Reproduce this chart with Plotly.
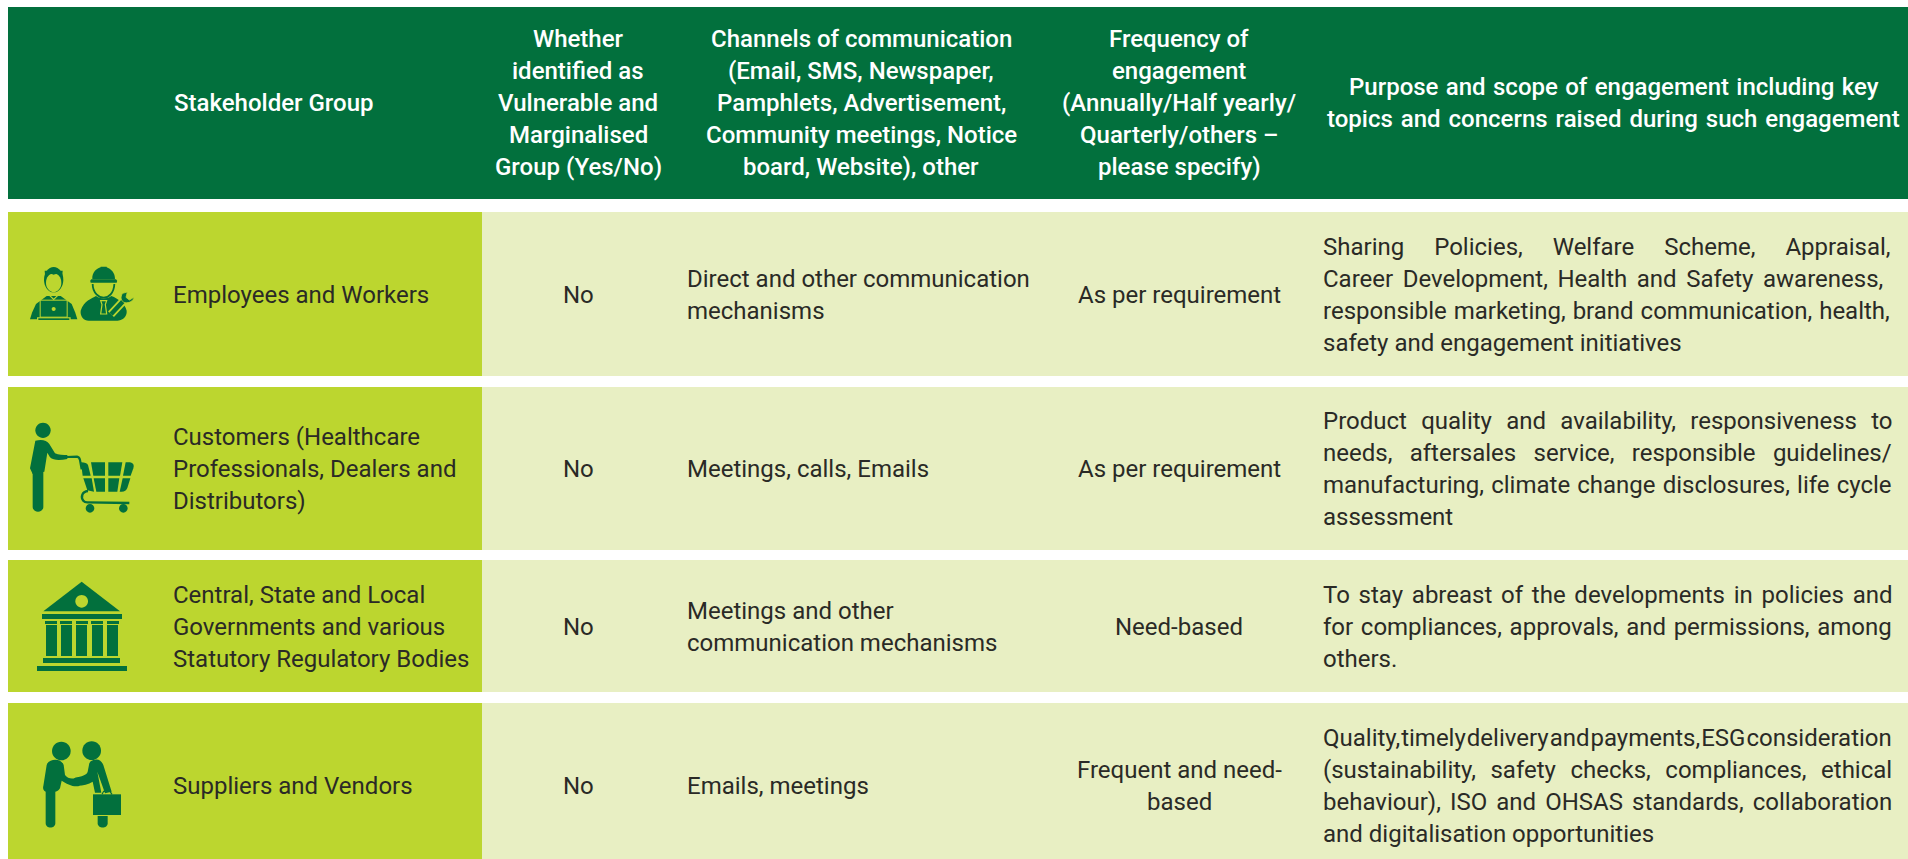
import re
import plotly.graph_objects as go

# ---------- content ----------
header_col1 = ["Stakeholder Group"]
header_col2 = ["Whether", "identified as", "Vulnerable and", "Marginalised", "Group (Yes/No)"]
header_col3 = ["Channels of communication", "(Email, SMS, Newspaper,", "Pamphlets, Advertisement,",
               "Community meetings, Notice", "board, Website), other"]
header_col4 = ["Frequency of", "engagement", "(Annually/Half yearly/", "Quarterly/others –", "please specify)"]
header_col5 = ["Purpose and scope of engagement including key", "topics and concerns raised during such engagement"]
header_col5_word_extra = [1.4, 2.0]

stakeholders = [["Employees and Workers"],
                ["Customers (Healthcare", "Professionals, Dealers and", "Distributors)"],
                ["Central, State and Local", "Governments and various", "Statutory Regulatory Bodies"],
                ["Suppliers and Vendors"]]
vulnerable = ["No", "No", "No", "No"]
channels = [["Direct and other communication", "mechanisms"],
            ["Meetings, calls, Emails"],
            ["Meetings and other", "communication mechanisms"],
            ["Emails, meetings"]]
frequency = [["As per requirement"], ["As per requirement"], ["Need-based"], ["Frequent and need-", "based"]]
purpose = [["Sharing Policies, Welfare Scheme, Appraisal,",
            "Career Development, Health and Safety awareness,",
            "responsible marketing, brand communication, health,",
            "safety and engagement initiatives"],
           ["Product quality and availability, responsiveness to",
            "needs, aftersales service, responsible guidelines/",
            "manufacturing, climate change disclosures, life cycle",
            "assessment"],
           ["To stay abreast of the developments in policies and",
            "for compliances, approvals, and permissions, among",
            "others."],
           ["Quality, timely delivery and payments, ESG consideration",
            "(sustainability, safety checks, compliances, ethical",
            "behaviour), ISO and OHSAS standards, collaboration",
            "and digitalisation opportunities"]]
purpose_word_extra = [[24, 3.6, 1, 0], [8.3, 11.4, 1.2, 0], [2.8, 1.7, 0, 0], [-4.95, 8.6, 3.1, 0]]

# ---------- style / layout ----------
DARK, LIME, PALE, INK = "#02703D", "#BCD62F", "#E8EFC3", "#2A2A26"
FONT = "Roboto"
SIZE = 24
LINE = 32
X0, X_SPLIT, X1 = 8, 482, 1908
HEADER = (7, 199)
ROWS = [(212, 376), (387, 550), (560, 692), (703, 859)]
ROW_TEXT_CENTER = [294.5, 469, 627, 786]
HEADER_CENTER = 103

shapes, annos = [], []


def rect(x0, y0, x1, y1, color):
    shapes.append(dict(type="rect", xref="x", yref="y", x0=x0, y0=y0, x1=x1, y1=y1,
                       fillcolor=color, line_width=0, layer="below"))


def text(lines, x, cy, anchor, color=INK, weight=400, extras=None):
    n = len(lines)
    for i, s in enumerate(lines):
        t = s
        if extras and extras[i]:
            t = f'<span style="word-spacing:{extras[i]}px">{s}</span>'
        annos.append(dict(x=x, y=cy + (i - (n - 1) / 2) * LINE, xref="x", yref="y", text=t,
                          xanchor=anchor, yanchor="middle", showarrow=False, align=anchor,
                          borderpad=0, font=dict(family=FONT, size=SIZE, color=color, weight=weight)))


def place(d, ox, oy):
    """Icon outlines are written in 3x local units; map to the chart's axes."""
    toks = re.findall(r"[MLCQZ]|-?\d+\.?\d*", d)
    out, is_x = [], True
    for t in toks:
        if t in "MLCQZ":
            out.append(t); is_x = True
        else:
            v = float(t) / 3 + (ox if is_x else oy)
            out.append(f"{v:.2f}"); is_x = not is_x
    return " ".join(out)


def icon_path(d, o, fill=DARK, stroke=None, w=0):
    shapes.append(dict(type="path", xref="x", yref="y", path=place(d, *o),
                       fillcolor=fill if fill else "rgba(0,0,0,0)",
                       line=dict(color=stroke if stroke else "rgba(0,0,0,0)", width=w)))


def poly(o, pts, fill=DARK):
    icon_path("M " + " L ".join(f"{a} {b}" for a, b in pts) + " Z", o, fill)


def box(o, x0, y0, x1, y1, fill=DARK):
    poly(o, [(x0, y0), (x1, y0), (x1, y1), (x0, y1)], fill)


def circ(o, cx, cy, r, fill=DARK, ry=None):
    ry = ry or r
    k = 0.5523
    d = (f"M {cx-r} {cy} C {cx-r} {cy-k*ry} {cx-k*r} {cy-ry} {cx} {cy-ry} "
         f"C {cx+k*r} {cy-ry} {cx+r} {cy-k*ry} {cx+r} {cy} "
         f"C {cx+r} {cy+k*ry} {cx+k*r} {cy+ry} {cx} {cy+ry} "
         f"C {cx-k*r} {cy+ry} {cx-r} {cy+k*ry} {cx-r} {cy} Z")
    icon_path(d, o, fill)


# ---------- panels ----------
rect(X0, HEADER[0], X1, HEADER[1], DARK)
for (a, b) in ROWS:
    rect(X0, a, X_SPLIT, b, LIME)
    rect(X_SPLIT, a, X1, b, PALE)

# ---------- header text ----------
W = "#FFFFFF"
text(header_col1, 172.5, HEADER_CENTER, "left", W, 500)
text(header_col2, 578, HEADER_CENTER, "center", W, 500)
text(header_col3, 861, HEADER_CENTER, "center", W, 500)
text(header_col4, 1179, HEADER_CENTER, "center", W, 500)
text(header_col5, 1613.5, HEADER_CENTER, "center", W, 500, extras=header_col5_word_extra)

# ---------- body text ----------
for i, cy in enumerate(ROW_TEXT_CENTER):
    text(stakeholders[i], 172, cy, "left")
    text([vulnerable[i]], 578, cy, "center")
    text(channels[i], 686, cy, "left")
    text(frequency[i], 1179, cy, "center")
    text(purpose[i], 1322, cy, "left", extras=purpose_word_extra[i])

# ---------- icon 1: employee and worker ----------
o = (10, 240)
poly(o, [(60, 238), (66, 218), (78, 192), (110, 168), (152, 168), (185, 192), (196, 218), (202, 238)])
circ(o, 131, 119, 29, DARK, 38)
circ(o, 131, 128, 23, LIME, 28)
icon_path("M 106 116 C 112 104 122 99 131 104 C 140 99 152 104 156 116 L 158 92 L 104 92 Z", o)
icon_path("M 110 158 L 131 178 L 152 158", o, None, LIME, 1.2)
box(o, 89, 179, 173, 233, LIME)
box(o, 92, 182, 170, 230, DARK)
circ(o, 131, 207, 6, LIME)
box(o, 81, 232, 182, 241, LIME)
box(o, 85, 235, 178, 240, DARK)
icon_path("M 247 118 C 245 96 262 84 272 82 L 272 80 L 290 80 L 290 82 C 302 86 316 98 315 118 Z", o)
icon_path("M 244 118 L 318 118 Q 324 122 320 128 L 242 128 Q 238 122 244 118 Z", o)
icon_path("M 248 132 C 248 160 268 173 281 173 C 295 173 312 160 313 132", o, None, DARK, 1.8)
icon_path("M 212 212 C 222 182 245 176 258 168 C 268 178 294 178 304 168 "
          "C 325 176 345 190 350 212 C 352 232 335 242 322 242 L 236 242 C 222 242 210 230 212 212 Z", o)
icon_path("M 272 182 L 290 182 L 286 194 L 290 222 L 272 222 L 276 194 Z", o, None, LIME, 1.2)
icon_path("M 303 223 L 340 183", o, None, LIME, 8)
icon_path("M 303 223 L 340 183", o, None, DARK, 4.5)
icon_path("M 338 160 C 330 170 332 185 345 188 C 358 190 370 183 372 172 L 358 180 L 348 172 L 352 156 Z",
          o, DARK, LIME, 0.8)

# ---------- icon 2: customer with cart ----------
o = (10, 410)
circ(o, 99, 61, 23)
icon_path("M 76 92 C 95 88 110 90 118 102 L 135 130 C 145 135 160 135 172 135 L 172 147 "
          "C 150 152 130 152 120 142 L 112 128 L 103 185 L 68 192 L 60 175 Z", o)
icon_path("M 68 185 L 100 185 L 100 290 C 100 310 68 310 68 290 Z", o)
icon_path("M 170 141 L 201 140 Q 208 141 210 150 L 215 178", o, None, DARK, 2.2)
icon_path("M 213 157 Q 230 157 234 165 L 242 197 L 218 197 Z", o)
poly(o, [(243, 157), (285, 157), (285, 197), (250, 197)])
poly(o, [(295, 157), (337, 157), (330, 197), (295, 197)])
icon_path("M 347 157 L 360 157 Q 375 160 370 175 L 362 197 L 339 197 Z", o)
poly(o, [(220, 205), (245, 205), (252, 245), (232, 241)])
poly(o, [(251, 205), (285, 205), (285, 245), (259, 245)])
poly(o, [(295, 205), (328, 205), (322, 245), (295, 245)])
icon_path("M 338 205 L 361 205 L 352 234 Q 348 245 335 245 L 329 245 Z", o)
icon_path("M 234 243 C 215 245 212 262 220 272 Q 224 277 232 277 L 358 279", o, None, DARK, 2.4)
circ(o, 240, 295, 13)
circ(o, 340, 295, 13)

# ---------- icon 3: government building ----------
o = (10, 570)
poly(o, [(215, 35), (330, 124), (100, 124)])
circ(o, 215, 94, 19, LIME)
box(o, 96, 132, 336, 147)
for a, b in [(105, 141), (150, 186), (198, 234), (243, 279), (291, 327)]:
    box(o, a, 153, b, 162)
for a, b in [(108, 141), (153, 186), (198, 231), (246, 279), (291, 324)]:
    box(o, a, 165, b, 258)
box(o, 99, 264, 330, 279)
box(o, 81, 288, 351, 303)

# ---------- icon 4: handshake ----------
o = (10, 730)
circ(o, 154, 63, 28)
circ(o, 245, 62, 28)
icon_path("M 122 92 C 135 86 155 88 161 105 L 165 135 C 172 145 185 148 195 144 L 215 142 L 208 168 "
          "C 190 172 170 162 155 152 L 150 175 C 145 183 138 185 136 185 L 136 280 C 136 297 107 297 107 280 "
          "L 107 185 C 100 182 98 175 100 168 L 110 105 Q 113 95 122 92 Z", o)
icon_path("M 250 90 C 265 85 275 92 280 105 L 305 185 L 285 190 L 262 125 L 274 188 L 255 188 L 248 155 "
          "C 235 163 215 168 200 167 L 190 150 L 195 143 C 215 140 230 135 233 125 L 238 100 Q 240 92 250 90 Z", o)
box(o, 249, 193, 333, 255)
icon_path("M 276 193 L 281 184 L 300 184 L 306 193", o, None, DARK, 1.2)
icon_path("M 263 258 L 293 258 L 293 280 C 293 297 263 297 263 280 Z", o)

# ---------- figure ----------
fig = go.Figure()
fig.update_layout(
    width=1908, height=859, margin=dict(l=0, r=0, t=0, b=0, pad=0),
    paper_bgcolor="#FFFFFF", plot_bgcolor="#FFFFFF", showlegend=False,
    xaxis=dict(range=[0, 1908], visible=False, fixedrange=True),
    yaxis=dict(range=[859, 0], visible=False, fixedrange=True),
    shapes=shapes, annotations=annos,
)
fig.write_html("out.html", config=dict(displayModeBar=False),
               post_script="document.body.style.margin='0';document.body.style.overflow='hidden';")
